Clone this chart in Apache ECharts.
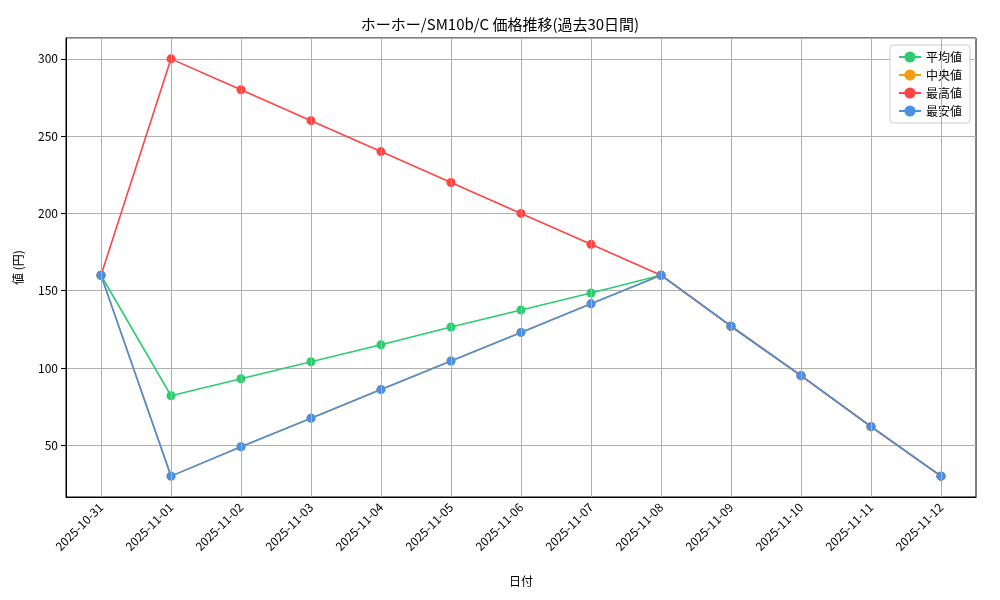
<!DOCTYPE html><html><head><meta charset="utf-8"><script src="https://cdn.jsdelivr.net/npm/echarts@6/dist/echarts.min.js"></script></head><body style="margin:0"><div id="c" style="width:1000px;height:600px"></div><script>
const dates=['2025-10-31','2025-11-01','2025-11-02','2025-11-03','2025-11-04','2025-11-05','2025-11-06','2025-11-07','2025-11-08','2025-11-09','2025-11-10','2025-11-11','2025-11-12'];
const avgV=[160,82,93,104,115,126.5,137.5,148.5,160,127,95,62,30];
const medV=[160,30,49,67.5,86,104.5,123,141.5,160,127,95,62,30];
const maxV=[160,300,280,260,240,220,200,180,160,127,95,62,30];
const minV=[160,30,49,67.5,86,104.5,123,141.5,160,127,95,62,30];
const F='"Noto Sans CJK JP"';
const mk=(n,d,c)=>({name:n,type:'line',data:d,symbol:'circle',symbolSize:9,z:3,itemStyle:{color:c},lineStyle:{color:c,width:1.6},emphasis:{disabled:true}});
const grid={name:'grid',type:'line',data:[],silent:true,z:1,markLine:{silent:true,symbol:'none',label:{show:false},lineStyle:{color:'#b0b0b0',type:'solid',width:1},data:dates.map(d=>({xAxis:d}))}};
const ch=echarts.init(document.getElementById('c'));
ch.setOption({animation:false,textStyle:{fontFamily:F},
title:{text:'ホーホー/SM10b/C 価格推移(過去30日間)',left:'center',top:12,textStyle:{fontFamily:F,fontSize:15,fontWeight:'normal',color:'#000'}},
legend:{right:30,top:45,orient:'vertical',itemGap:6,itemWidth:22,backgroundColor:'#fff',borderColor:'#ccc',borderWidth:1,borderRadius:3,padding:[6,8],textStyle:{fontFamily:F,fontSize:12,color:'#000'},data:['平均値','中央値','最高値','最安値']},
grid:{left:66,right:24,top:38,bottom:103,show:true,borderColor:'#000',borderWidth:1},
xAxis:{type:'category',data:dates,boundaryGap:true,name:'日付',nameLocation:'middle',nameGap:78,nameTextStyle:{color:'#000',fontSize:12},
axisLine:{lineStyle:{color:'#000'}},axisTick:{alignWithLabel:true,lineStyle:{color:'#000'}},axisLabel:{rotate:45,color:'#000',fontSize:12,interval:0},
splitLine:{show:false}},
yAxis:{type:'value',min:16.5,max:313.5,splitNumber:6,name:'値 (円)',nameLocation:'middle',nameGap:42,nameTextStyle:{color:'#000',fontSize:12},
axisLine:{show:true,lineStyle:{color:'#000'}},axisTick:{show:true,lineStyle:{color:'#000'}},axisLabel:{color:'#000',fontSize:12,showMinLabel:false,showMaxLabel:false},
splitLine:{lineStyle:{color:'#b0b0b0'}}},
series:[grid,mk('平均値',avgV,'#2ecc71'),mk('中央値',medV,'#f39c12'),mk('最高値',maxV,'#ff4444'),mk('最安値',minV,'#4a90e2')]});
</script></body></html>
